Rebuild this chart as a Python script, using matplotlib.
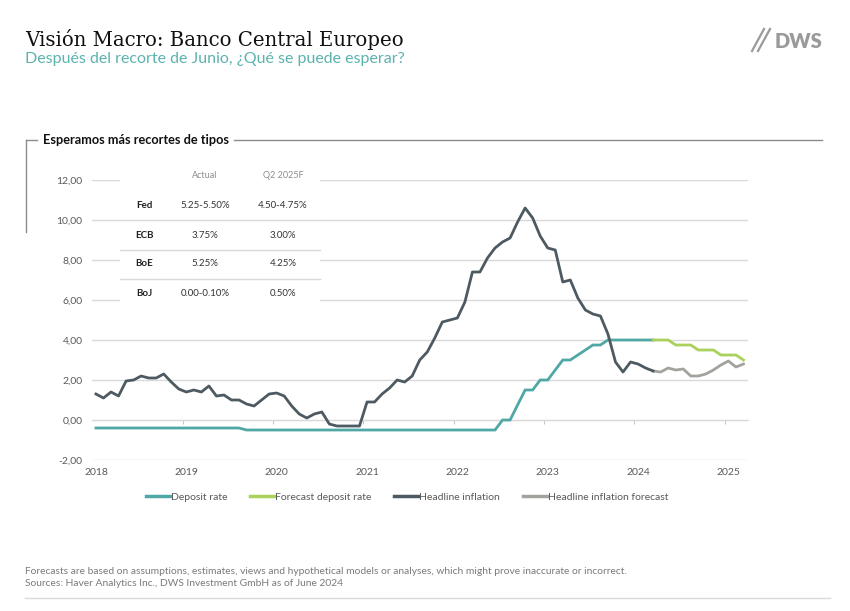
import matplotlib
matplotlib.use("Agg")
import matplotlib.pyplot as plt
from matplotlib.lines import Line2D
from matplotlib.patches import Rectangle

# ---------------- data ----------------
years = ["2018", "2019", "2020", "2021", "2022", "2023", "2024", "2025"]

# Monthly, Jan 2018 .. Mar 2024
deposit_rate = (
    [-0.40, -0.40, -0.40, -0.40, -0.40, -0.40, -0.40, -0.40, -0.40, -0.40, -0.40, -0.40]   # 2018
    + [-0.40, -0.40, -0.40, -0.40, -0.40, -0.40, -0.40, -0.40, -0.50, -0.50, -0.50, -0.50]  # 2019
    + [-0.50, -0.50, -0.50, -0.50, -0.50, -0.50, -0.50, -0.50, -0.50, -0.50, -0.50, -0.50]  # 2020
    + [-0.50, -0.50, -0.50, -0.50, -0.50, -0.50, -0.50, -0.50, -0.50, -0.50, -0.50, -0.50]  # 2021
    + [-0.50, -0.50, -0.50, -0.50, -0.50, -0.50, 0.00, 0.00, 0.75, 1.50, 1.50, 2.00]        # 2022
    + [2.00, 2.50, 3.00, 3.00, 3.25, 3.50, 3.75, 3.75, 4.00, 4.00, 4.00, 4.00]              # 2023
    + [4.00, 4.00, 4.00]                                                                     # 2024
)
headline_inflation = (
    [1.3, 1.1, 1.4, 1.2, 1.95, 2.0, 2.2, 2.1, 2.1, 2.3, 1.9, 1.55]    # 2018
    + [1.4, 1.5, 1.4, 1.7, 1.2, 1.25, 1.0, 1.0, 0.8, 0.7, 1.0, 1.3]   # 2019
    + [1.35, 1.2, 0.7, 0.3, 0.1, 0.3, 0.4, -0.2, -0.3, -0.3, -0.3, -0.3]  # 2020
    + [0.9, 0.9, 1.3, 1.6, 2.0, 1.9, 2.2, 3.0, 3.4, 4.1, 4.9, 5.0]    # 2021
    + [5.1, 5.9, 7.4, 7.4, 8.1, 8.6, 8.9, 9.1, 9.9, 10.6, 10.1, 9.2]  # 2022
    + [8.6, 8.5, 6.9, 7.0, 6.1, 5.5, 5.3, 5.2, 4.3, 2.9, 2.4, 2.9]    # 2023
    + [2.8, 2.6, 2.45]                                                # 2024
)
# Monthly, Mar 2024 .. Mar 2025
forecast_deposit_rate = [4.00, 4.00, 4.00, 3.75, 3.75, 3.75, 3.50, 3.50, 3.50,
                         3.25, 3.25, 3.25, 3.00]
headline_inflation_forecast = [2.45, 2.4, 2.6, 2.5, 2.55, 2.2, 2.2, 2.3, 2.5,
                               2.75, 2.95, 2.65, 2.8]

table_banks = ["Fed", "ECB", "BoE", "BoJ"]
table_actual = ["5.25-5.50%", "3.75%", "5.25%", "0.00-0.10%"]
table_forecast = ["4.50-4.75%", "3.00%", "4.25%", "0.50%"]
table_headers = ["Actual", "Q2 2025F"]

series_names = ["Deposit rate", "Forecast deposit rate", "Headline inflation",
                "Headline inflation forecast"]

# ---------------- style ----------------
TEAL = "#4FA7A6"
GREEN = "#A9D15B"
DARK = "#4E5A62"
GREY = "#A4A29D"
GRID = "#D9D9D9"
TXT = "#595959"
SANS = ["Lato", "DejaVu Sans"]

W, H = 850, 611
fig = plt.figure(figsize=(W / 100, H / 100), dpi=100)


def fx(x):
    return x / W


def fy(y):
    return 1 - y / H


ax = fig.add_axes([fx(92.2), fy(460), fx(748) - fx(92.2), (460 - 180) / H])
ax.set_axisbelow(True)

n_act = len(deposit_rate)
x_act = list(range(n_act))
start_fc = len(headline_inflation) - 1
x_fc = list(range(start_fc, start_fc + len(forecast_deposit_rate)))

lw = 2.0
ax.plot(x_act, deposit_rate, color=TEAL, lw=lw, zorder=3, solid_joinstyle="miter")
ax.plot(x_fc, forecast_deposit_rate, color=GREEN, lw=lw, zorder=3)
ax.plot(list(range(len(headline_inflation))), headline_inflation, color=DARK, lw=lw,
        zorder=4)
ax.plot(x_fc, headline_inflation_forecast, color=GREY, lw=lw, zorder=3)

ax.set_xlim(-0.5, 86.6)
ax.set_ylim(-2, 12)
yt = [-2, 0, 2, 4, 6, 8, 10, 12]
ax.set_yticks(yt)
ax.set_yticklabels([f"{v:.2f}".replace(".", ",") for v in yt])
ax.set_xticks([12 * i for i in range(len(years))])
ax.set_xticklabels(years)
ax.tick_params(axis="both", length=0, colors=TXT, labelsize=7.5)
ax.tick_params(axis="y", pad=7)
ax.tick_params(axis="x", pad=6)
for lab in ax.get_xticklabels() + ax.get_yticklabels():
    lab.set_family(SANS)
for s in ax.spines.values():
    s.set_visible(False)
ax.grid(axis="y", color=GRID, lw=1)

sec = ax.secondary_xaxis(2 / 14)
sec.set_xticks([11.5 + 12 * i for i in range(7)])
sec.tick_params(length=3, color="#C8C8C8", labelbottom=False, direction="out")
sec.spines["bottom"].set_color(GRID)

# ---------------- table ----------------
ax.add_patch(Rectangle((fx(120), fy(306)), fx(320) - fx(120), (306 - 166) / H,
                       transform=fig.transFigure, facecolor="white",
                       edgecolor="none", zorder=1, clip_on=False))
col_x = [144, 205, 283]
fig.text(fx(col_x[1]), fy(176), table_headers[0], ha="center", va="center",
         fontsize=6.5, color="#8C8C8C", family=SANS)
fig.text(fx(col_x[2]), fy(176), table_headers[1], ha="center", va="center",
         fontsize=6.5, color="#8C8C8C", family=SANS)
row_y = [206, 235, 264, 294]
for i, b in enumerate(table_banks):
    fig.text(fx(col_x[0]), fy(row_y[i]), b, ha="center", va="center",
             fontsize=7, fontweight="bold", color="#222222", family=SANS)
    fig.text(fx(col_x[1]), fy(row_y[i]), table_actual[i], ha="center",
             va="center", fontsize=7, color="#333333", family=SANS)
    fig.text(fx(col_x[2]), fy(row_y[i]), table_forecast[i], ha="center",
             va="center", fontsize=7, color="#333333", family=SANS)
for ys in [220.5, 249.5, 278.5]:
    fig.add_artist(Line2D([fx(120), fx(320)], [fy(ys), fy(ys)], color=GRID,
                          lw=1, zorder=2))

# ---------------- titles ----------------
fig.text(fx(25), fy(40), "Visión Macro: Banco Central Europeo", ha="left",
         va="center", fontsize=14.2, color="#111111", family="DejaVu Serif")
fig.text(fx(25), fy(59), "Después del recorte de Junio, ¿Qué se puede esperar?",
         ha="left", va="center", fontsize=11.5, color="#5BB3AE", family=SANS)

# DWS logo
fig.text(fx(822), fy(42), "DWS", ha="right", va="center", fontsize=14.5,
         fontweight="heavy", color="#9A9A9A", family=SANS)
for dx in (0, 6):
    fig.add_artist(Line2D([fx(752 + dx), fx(764 + dx)], [fy(51), fy(29)],
                          color="#9A9A9A", lw=1.6))

# section header
fig.text(fx(43), fy(140), "Esperamos más recortes de tipos", ha="left",
         va="center", fontsize=9.2, fontweight="bold", color="#111111",
         family=SANS)
fig.add_artist(Line2D([fx(234), fx(822)], [fy(140), fy(140)], color="#8C8C8C", lw=1))
fig.add_artist(Line2D([fx(26), fx(37)], [fy(140), fy(140)], color="#8C8C8C", lw=1))
fig.add_artist(Line2D([fx(26), fx(26)], [fy(140), fy(232)], color="#8C8C8C", lw=1))

# ---------------- legend ----------------
handles = [Line2D([], [], color=c, lw=2.5) for c in (TEAL, GREEN, DARK, GREY)]
leg = fig.legend(handles, series_names, loc="center",
                 bbox_to_anchor=(fx(407), fy(497)), ncol=4, frameon=False,
                 handlelength=2.3, handletextpad=0.1,
                 columnspacing=2.2, prop={"family": SANS, "size": 7.5})
for t in leg.get_texts():
    t.set_color(TXT)

# ---------------- footer ----------------
fig.text(fx(25), fy(571), "Forecasts are based on assumptions, estimates, views and "
         "hypothetical models or analyses, which might prove inaccurate or incorrect.",
         ha="left", va="center", fontsize=7.4, color="#7A7A7A", family=SANS)
fig.text(fx(25), fy(584), "Sources: Haver Analytics Inc., DWS Investment GmbH as of June 2024",
         ha="left", va="center", fontsize=7.4, color="#7A7A7A", family=SANS)
fig.add_artist(Line2D([fx(25), fx(830)], [fy(598), fy(598)], color=GRID, lw=1))

fig.savefig("out.png", dpi=100, facecolor="white")
